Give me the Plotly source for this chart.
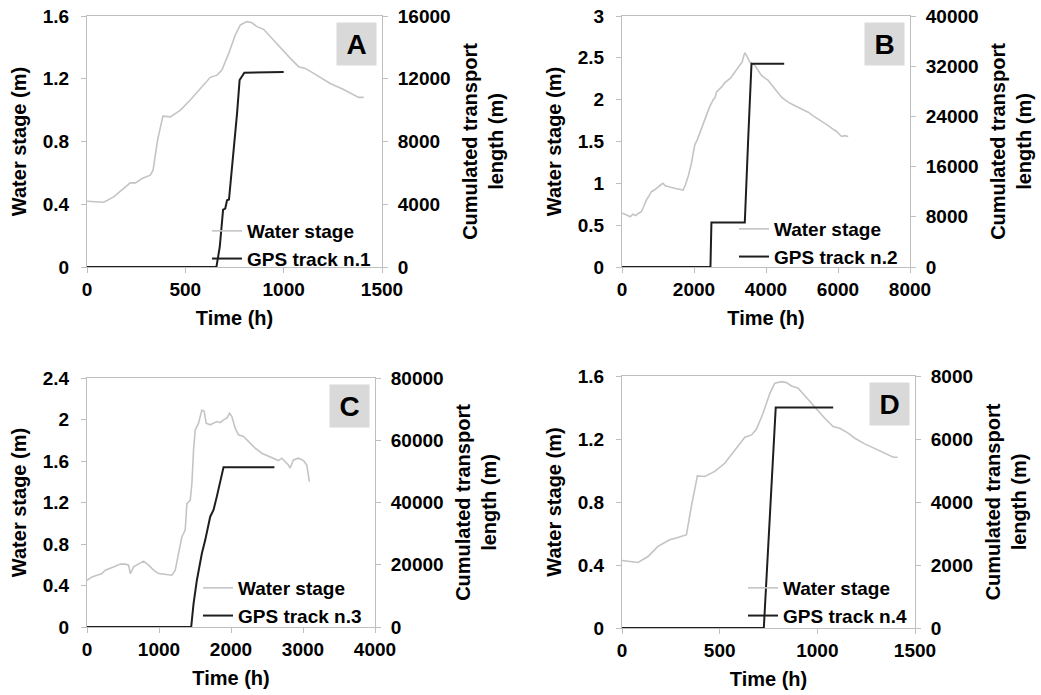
import plotly.graph_objects as go

# ---------------- data ----------------
# Panel A
water_a_t = [0, 85, 136, 186, 220, 246, 280, 322, 336, 359, 386, 424, 475, 525, 576, 627, 661, 686,
             720, 754, 780, 813, 839, 864, 898, 932, 983, 1034, 1076, 1110, 1153, 1186, 1237, 1305,
             1356, 1381, 1407]
water_a_v = [0.419, 0.413, 0.447, 0.50, 0.536, 0.536, 0.564, 0.585, 0.617, 0.81, 0.962, 0.957, 1.0,
             1.064, 1.138, 1.209, 1.223, 1.255, 1.36, 1.479, 1.543, 1.564, 1.557, 1.532, 1.515, 1.468,
             1.404, 1.33, 1.277, 1.266, 1.234, 1.209, 1.17, 1.132, 1.096, 1.081, 1.081]
gps_a_t = [0, 658, 675, 692, 703, 712, 722, 746, 763, 776, 788, 800, 1000]
gps_a_v = [0, 0, 1277, 3660, 3724, 4256, 4300, 7448, 9790, 11917, 12130, 12385, 12430]

# Panel B
water_b_t = [0, 90, 170, 230, 300, 380, 450, 538, 600, 677, 750, 816, 900, 1001, 1070, 1140, 1200,
             1326, 1420, 1511, 1600, 1696, 1760, 1789, 1850, 1928, 1980, 2021, 2090, 2160, 2230,
             2299, 2370, 2438, 2490, 2531, 2580, 2623, 2690, 2762, 2850, 2948, 3020, 3087, 3150,
             3226, 3290, 3337, 3380, 3411, 3458, 3500, 3550, 3620, 3689, 3780, 3875, 3960, 4060,
             4150, 4245, 4340, 4431, 4520, 4616, 4750, 4895, 5030, 5173, 5300, 5451, 5600, 5729,
             5850, 5961, 6030, 6100, 6190, 6285]
water_b_v = [0.646, 0.63, 0.62, 0.60, 0.63, 0.615, 0.64, 0.66, 0.72, 0.80, 0.85, 0.90, 0.92, 0.96,
             0.98, 1.00, 0.97, 0.955, 0.94, 0.935, 0.93, 0.92, 0.98, 1.02, 1.10, 1.24, 1.36, 1.46,
             1.52, 1.60, 1.68, 1.78, 1.86, 1.92, 1.96, 2.00, 2.02, 2.09, 2.12, 2.15, 2.20, 2.24,
             2.26, 2.30, 2.34, 2.39, 2.43, 2.45, 2.52, 2.56, 2.53, 2.49, 2.45, 2.43, 2.41, 2.35,
             2.29, 2.26, 2.23, 2.18, 2.13, 2.07, 2.03, 2.00, 1.97, 1.94, 1.91, 1.88, 1.85, 1.81,
             1.77, 1.73, 1.69, 1.65, 1.62, 1.59, 1.56, 1.57, 1.56]
gps_b_t = [0, 2457, 2484, 3411, 3504, 3597, 4505]
gps_b_v = [0, 0, 7100, 7100, 20200, 32400, 32400]

# Panel C
water_c_t = [0, 69, 139, 208, 254, 324, 393, 462, 532, 578, 601, 647, 717, 786, 855, 925, 994, 1087,
             1179, 1225, 1272, 1318, 1364, 1387, 1433, 1457, 1480, 1503, 1549, 1595, 1628, 1655,
             1711, 1757, 1803, 1850, 1896, 1942, 1979, 2011, 2058, 2104, 2173, 2266, 2335, 2428,
             2520, 2589, 2659, 2705, 2751, 2797, 2820, 2867, 2936, 3006, 3052, 3089]
water_c_v = [0.451, 0.483, 0.499, 0.515, 0.548, 0.564, 0.586, 0.606, 0.606, 0.596, 0.515, 0.58,
             0.612, 0.635, 0.596, 0.548, 0.515, 0.509, 0.499, 0.548, 0.709, 0.87, 0.934, 1.19,
             1.22, 1.385, 1.707, 1.90, 1.965, 2.09, 2.08, 1.965, 1.949, 1.965, 1.98, 1.97, 1.997,
             2.013, 2.06, 2.03, 1.917, 1.852, 1.836, 1.772, 1.723, 1.675, 1.649, 1.627, 1.604,
             1.627, 1.594, 1.562, 1.530, 1.61, 1.627, 1.604, 1.562, 1.401]
gps_c_t = [0, 1447, 1480, 1526, 1595, 1642, 1711, 1757, 1803, 1873, 1896, 2603]
gps_c_v = [0, 0, 7518, 15036, 23628, 27924, 35442, 37590, 41886, 49404, 51337, 51337]

# Panel D
water_d_t = [0, 82, 133, 184, 219, 244, 278, 330, 355, 386, 424, 475, 526, 577, 629, 663, 688, 722,
             757, 782, 816, 842, 868, 902, 936, 987, 1038, 1081, 1115, 1158, 1192, 1243, 1312,
             1363, 1389, 1411]
water_d_v = [0.429, 0.416, 0.454, 0.518, 0.543, 0.56, 0.571, 0.592, 0.772, 0.966, 0.962, 0.994,
             1.046, 1.131, 1.211, 1.226, 1.262, 1.363, 1.49, 1.554, 1.564, 1.558, 1.537, 1.522,
             1.473, 1.406, 1.332, 1.279, 1.268, 1.237, 1.205, 1.169, 1.131, 1.099, 1.084, 1.084]
gps_d_t = [0, 726, 787, 1081]
gps_d_v = [0, 0, 7000, 7000]

panel_letters = ["A", "B", "C", "D"]
gps_names = ["GPS track n.1", "GPS track n.2", "GPS track n.3", "GPS track n.4"]
x_ranges = [[0, 1500], [0, 8000], [0, 4000], [0, 1500]]
x_dticks = [500, 2000, 1000, 500]
y_ranges = [[0, 1.6], [0, 3], [0, 2.4], [0, 1.6]]
y_dticks = [0.4, 0.5, 0.4, 0.4]
y2_ranges = [[0, 16000], [0, 40000], [0, 80000], [0, 8000]]
y2_dticks = [4000, 8000, 20000, 2000]

water_series = [(water_a_t, water_a_v), (water_b_t, water_b_v), (water_c_t, water_c_v), (water_d_t, water_d_v)]
gps_series = [(gps_a_t, gps_a_v), (gps_b_t, gps_b_v), (gps_c_t, gps_c_v), (gps_d_t, gps_d_v)]

# ---------------- layout geometry (pixels) ----------------
W, H = 1041, 695
# plot areas: (left, right, top, bottom)
boxes = [(87, 382, 16, 267), (622, 910, 16, 267), (87, 375, 378, 627), (622, 915, 376, 628)]
legend_text_x = [247, 774, 238, 783]
legend_top_y = [212, 210, 569, 569]

FONT = "Liberation Sans, Arial, Helvetica, sans-serif"
AXC = "#bfbfbf"
WATER_C = "#c4c4c4"
GPS_C = "#1e1e1e"

fig = go.Figure()
layout = dict(
    width=W, height=H,
    margin=dict(l=0, r=0, t=0, b=0),
    paper_bgcolor="white", plot_bgcolor="white",
    font=dict(family=FONT, size=19, color="black", weight="bold"),
    annotations=[],
)

for i in range(4):
    n = i + 1
    xa = "x" if n == 1 else f"x{n}"
    ya = f"y{2*n-1}" if n > 1 else "y"
    y2a = f"y{2*n}"
    leg = "legend" if n == 1 else f"legend{n}"
    l, r, t, b = boxes[i]
    wt, wv = water_series[i]
    gt, gv = gps_series[i]
    fig.add_trace(go.Scatter(x=wt, y=wv, mode="lines", name="Water stage",
                             line=dict(color=WATER_C, width=1.6),
                             xaxis=xa, yaxis=ya, legend=leg))
    fig.add_trace(go.Scatter(x=gt, y=gv, mode="lines", name=gps_names[i],
                             line=dict(color=GPS_C, width=2),
                             xaxis=xa, yaxis=y2a, legend=leg))

    xkey = "xaxis" if n == 1 else f"xaxis{n}"
    ykey = "yaxis" if n == 1 else f"yaxis{2*n-1}"
    y2key = f"yaxis{2*n}"
    common = dict(showgrid=False, zeroline=False, showline=True, linecolor=AXC, linewidth=1,
                  ticks="outside", ticklen=5, tickcolor=AXC, tickwidth=1,
                  tickfont=dict(family=FONT, size=19, color="black", weight="bold"),
                  automargin=False)
    layout[xkey] = dict(common, domain=[l / W, r / W], range=x_ranges[i], dtick=x_dticks[i],
                        tick0=0, anchor=ya, mirror=True,
                        title=dict(text="Time (h)", font=dict(family=FONT, size=20, weight="bold"),
                                   standoff=12))
    layout[ykey] = dict(common, domain=[1 - b / H, 1 - t / H], range=y_ranges[i], dtick=y_dticks[i],
                        tick0=0, anchor=xa, ticklabelstandoff=8,
                        title=dict(text="Water stage (m)", font=dict(family=FONT, size=20, weight="bold"),
                                   standoff=10))
    layout[y2key] = dict(common, range=y2_ranges[i], dtick=y2_dticks[i], tick0=0,
                         overlaying=ya, side="right", anchor=xa, tickformat="d",
                         ticklabelstandoff=6,
                         title=dict(text="Cumulated transport<br>length (m)",
                                    font=dict(family=FONT, size=20, weight="bold"),
                                    standoff=13))
    layout[leg] = dict(x=(legend_text_x[i] - 40) / W, y=1 - legend_top_y[i] / H,
                       xanchor="left", yanchor="top", bgcolor="rgba(0,0,0,0)",
                       borderwidth=0, tracegroupgap=0, itemwidth=30,
                       font=dict(family=FONT, size=19, color="black", weight="bold"))
    layout["annotations"].append(dict(
        text=panel_letters[i], xref=f"{xa} domain", yref=f"{ya} domain", x=1, y=1,
        xanchor="right", yanchor="top", xshift=-5, yshift=-6, showarrow=False,
        width=37, height=40, bgcolor="#d9d9d9",
        font=dict(family=FONT, size=28, color="black", weight="bold")))

fig.update_layout(**layout)
fig.write_html("out.html", config={"displayModeBar": False},
               post_script="document.body.style.margin='0';document.body.style.overflow='hidden';")
